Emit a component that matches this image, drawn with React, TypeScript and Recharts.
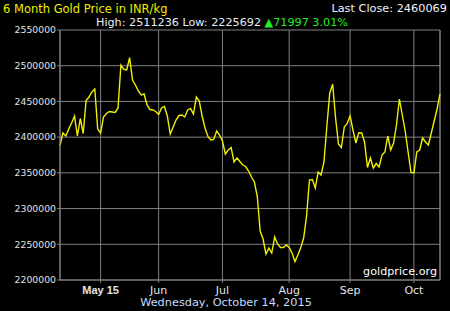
import { LineChart, Line, XAxis, YAxis, CartesianGrid, ReferenceLine } from 'recharts'

// daily closes, INR/kg, Apr 14 - Oct 14 2015 (trading days)
const prices = [
  2388072, 2405800, 2401600, 2411400, 2419800, 2429600, 2401600, 2426100, 2405100, 2451300,
  2456200, 2463200, 2467400, 2411400, 2405800, 2428200, 2433100, 2435900, 2435200, 2434500,
  2440800, 2501000, 2495000, 2494000, 2511236, 2480000, 2473000, 2464600, 2459000, 2460400,
  2445000, 2438700, 2438000, 2435900, 2431700, 2440800, 2442900, 2429600, 2404400, 2414200,
  2424000, 2430300, 2431000, 2428200, 2438000, 2440100, 2432400, 2456200, 2450600, 2429600,
  2412800, 2400900, 2396000, 2396700, 2408600, 2403000, 2394600, 2376400, 2382000, 2385500,
  2365200, 2370800, 2365900, 2361000, 2358900, 2352600, 2344200, 2337200, 2317600, 2268600,
  2257400, 2236400, 2244800, 2237800, 2260200, 2250400, 2245500, 2245500, 2249000, 2245500,
  2237800, 2225692, 2235000, 2245500, 2258800, 2289600, 2340000, 2340700, 2328800, 2351200,
  2347000, 2365200, 2415600, 2461800, 2474000, 2426800, 2390400, 2385500, 2414200, 2419100,
  2429600, 2410000, 2391800, 2406200, 2405800, 2393200, 2357500, 2370800, 2356800, 2363100,
  2358200, 2375000, 2379200, 2401600, 2382000, 2391800, 2417000, 2453400, 2431000, 2408600,
  2379200, 2350500, 2349800, 2379200, 2382000, 2398800, 2393200, 2389000, 2405800, 2422600,
  2439400, 2460069
]

const tickIndex = [14, 34, 56, 79, 100, 122]
const tickLabels = ['May 15', 'Jun', 'Jul', 'Aug', 'Sep', 'Oct']
const yTicks = [2200000, 2250000, 2300000, 2350000, 2400000, 2450000, 2500000, 2550000]

const title = '6 Month Gold Price in INR/kg'
const dateLabel = 'Wednesday, October 14, 2015'
const source = 'goldprice.org'

const data = prices.map((p, i) => ({ i, price: p }))

const high = Math.max(...prices)
const low = Math.min(...prices)
const last = prices[prices.length - 1]
const change = last - prices[0]
const pct = ((change / prices[0]) * 100).toFixed(2)

const FONT = '"DejaVu Sans", sans-serif'
const GRID = '#808080'

function XTick(props: any) {
  const { x, y, payload } = props
  const k = tickIndex.indexOf(payload.value)
  const bold = k === 0 // first label is drawn bold
  return (
    <text
      x={x}
      y={y}
      dy="0.71em"
      textAnchor="middle"
      fill="#e4e4e4"
      fontSize={11}
      fontFamily={bold ? '"Liberation Sans", Arial, sans-serif' : FONT}
      fontWeight={bold ? 'bold' : 'normal'}
    >
      {tickLabels[k]}
    </text>
  )
}

export default function App() {
  return (
    <div
      style={{
        position: 'absolute',
        left: 0,
        top: 0,
        width: 450,
        height: 311,
        background: '#000',
        fontFamily: FONT,
        overflow: 'hidden'
      }}
    >
      <LineChart width={450} height={311} data={data} margin={{ top: 30, right: 10, bottom: 0, left: 0 }}>
        <CartesianGrid stroke={GRID} strokeWidth={1} />
        <XAxis
          dataKey="i"
          type="number"
          domain={[0, prices.length - 1]}
          ticks={tickIndex}
          height={31}
          tickSize={3}
          tickMargin={3}
          stroke={GRID}
          tick={<XTick />}
        />
        <YAxis
          type="number"
          domain={[2200000, 2550000]}
          ticks={yTicks}
          width={60}
          tickSize={3}
          tickMargin={1}
          stroke={GRID}
          tick={{ fill: '#e0e0e0', fontSize: 9.3, fontFamily: FONT }}
        />
        <ReferenceLine x={prices.length - 1} stroke={GRID} />
        <Line
          type="linear"
          dataKey="price"
          stroke="#f0f000"
          strokeWidth={1.4}
          dot={false}
          isAnimationActive={false}
        />
      </LineChart>

      <div style={{ position: 'absolute', left: 3, top: 2, fontSize: 11.5, lineHeight: '14px', color: '#eeee00', whiteSpace: 'nowrap' }}>
        {title}
      </div>
      <div style={{ position: 'absolute', right: 3, top: 2, fontSize: 11.3, lineHeight: '14px', color: '#eef2ff', whiteSpace: 'nowrap' }}>
        Last Close: {last}
      </div>
      <div style={{ position: 'absolute', left: 96, top: 16, fontSize: 11.2, lineHeight: '14px', color: '#e6eeff', whiteSpace: 'nowrap' }}>
        High: {high} Low: {low} <span style={{ color: '#22ee22' }}>▲{change} {pct}%</span>
      </div>
      <div style={{ position: 'absolute', right: 13, top: 265, fontSize: 11.2, lineHeight: '14px', color: '#ffffff', whiteSpace: 'nowrap' }}>
        {source}
      </div>
      <div style={{ position: 'absolute', left: 0, width: 452, top: 297.5, textAlign: 'center', fontSize: 11.3, lineHeight: '10px', color: '#c4dcff', whiteSpace: 'nowrap' }}>
        {dateLabel}
      </div>
    </div>
  )
}
